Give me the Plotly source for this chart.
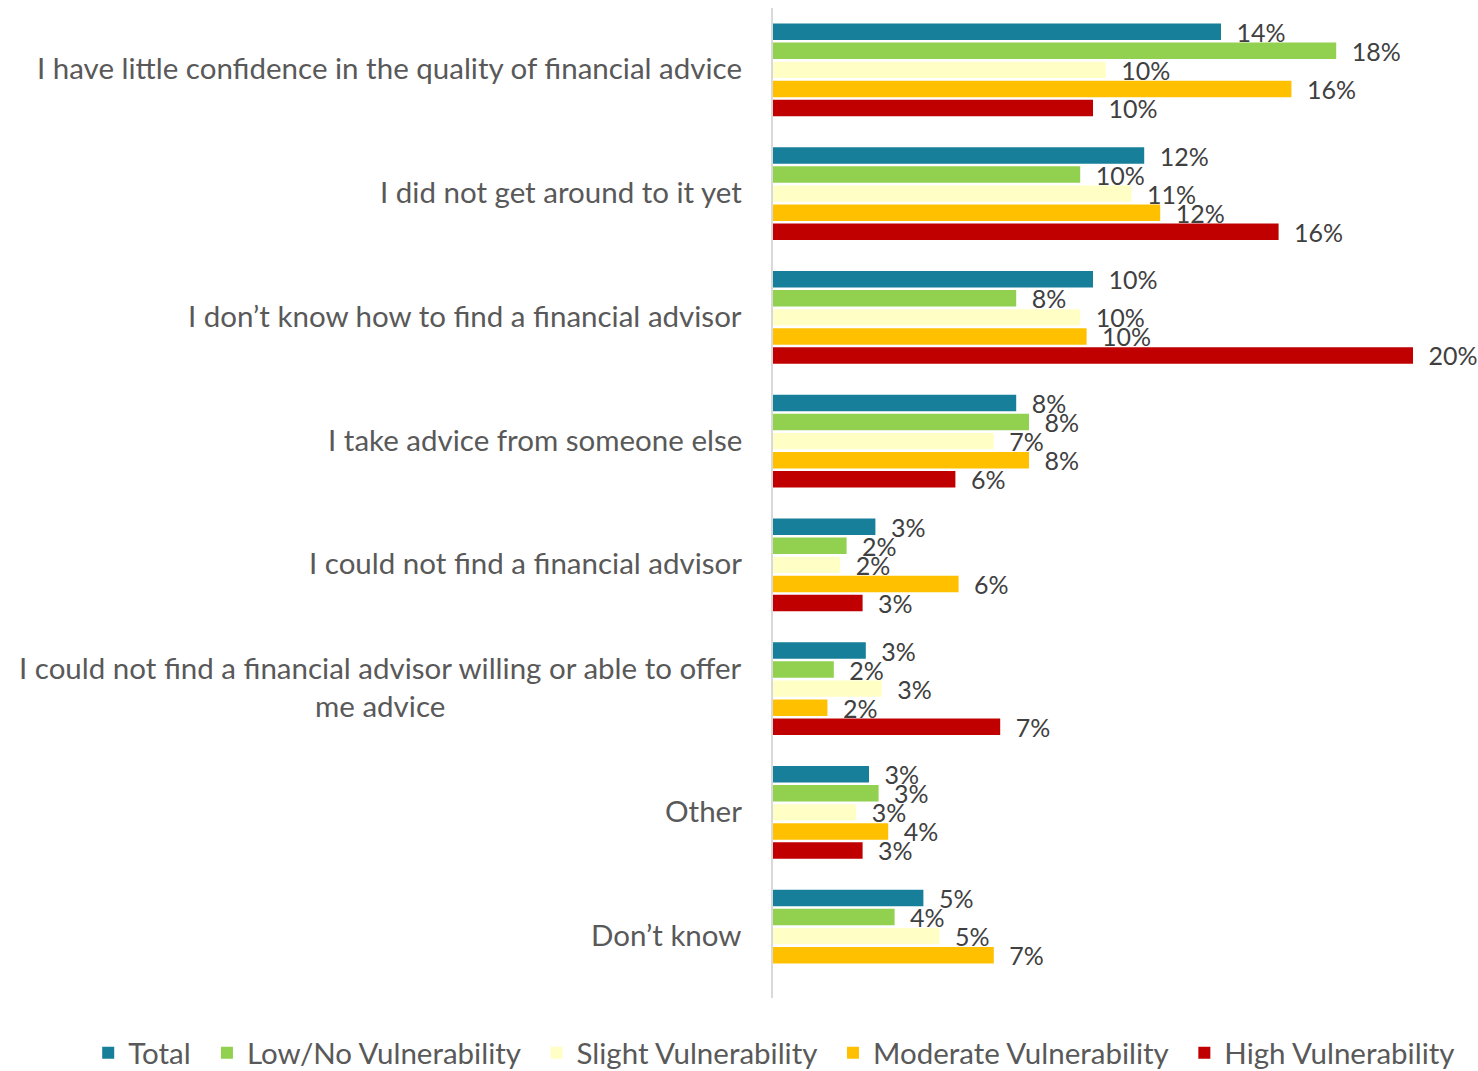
import plotly.graph_objects as go

# Reasons for not seeking financial advice, by vulnerability segment
categories = [
    "I have little confidence in the quality of financial advice",
    "I did not get around to it yet",
    "I don\u2019t know how to find a financial advisor",
    "I take advice from someone else",
    "I could not find a financial advisor",
    "I could not find a financial advisor willing or able to offer<br>me advice",
    "Other",
    "Don\u2019t know",
]

series_names = [
    "Total",
    "Low/No Vulnerability",
    "Slight Vulnerability",
    "Moderate Vulnerability",
    "High Vulnerability",
]

total = [0.140, 0.116, 0.100, 0.076, 0.032, 0.029, 0.030, 0.047]
low_none = [0.176, 0.096, 0.076, 0.080, 0.023, 0.019, 0.033, 0.038]
slight = [0.104, 0.112, 0.096, 0.069, 0.021, 0.034, 0.026, 0.052]
moderate = [0.162, 0.121, 0.098, 0.080, 0.058, 0.017, 0.036, 0.069]
high = [0.100, 0.158, 0.200, 0.057, 0.028, 0.071, 0.028, None]

series_values = [total, low_none, slight, moderate, high]
colors = ["#177F99", "#92D050", "#FFFFC5", "#FFC000", "#C00000"]

FONT = "Lato, Calibri, sans-serif"
LEGEND_PAD = "\u00a0\u2009"  # extra room between legend entries

fig = go.Figure()
for i, (name, vals, col) in enumerate(zip(series_names, series_values, colors)):
    legend_name = name if i == len(series_names) - 1 else name + LEGEND_PAD
    fig.add_trace(go.Bar(
        y=categories,
        x=vals,
        name=legend_name,
        orientation="h",
        marker=dict(color=col, line=dict(width=0)),
        texttemplate="\u2002%{x:.0%}",
        textposition="outside",
        constraintext="none",
        cliponaxis=False,
        outsidetextfont=dict(family=FONT, size=25, color="#404040"),
        hovertemplate=name + ": %{x:.1%}<extra></extra>",
    ))

# Category labels drawn as centred, right-anchored text blocks
for cat in categories:
    fig.add_annotation(
        x=0, xref="x", y=cat, yref="y",
        text=cat, showarrow=False,
        xanchor="right", yanchor="middle", align="center",
        xshift=-29, yshift=2,
        font=dict(family=FONT, size=29.5, color="#595959"),
    )

fig.update_layout(
    width=1478, height=1071,
    margin=dict(l=773, r=65, t=8, b=73, autoexpand=False),
    barmode="group",
    bargap=0.23,
    bargroupgap=0.14,
    plot_bgcolor="white",
    paper_bgcolor="white",
    font=dict(family=FONT, color="#595959"),
    showlegend=True,
    legend=dict(
        orientation="h",
        x=-1.07, xanchor="left",
        y=-0.0293, yanchor="top",
        font=dict(family=FONT, size=29.5, color="#595959"),
        itemwidth=30,
        traceorder="normal",
    ),
    xaxis=dict(
        range=[0, 0.2],
        visible=False,
        showgrid=False,
        zeroline=False,
    ),
    yaxis=dict(
        autorange="reversed",
        showticklabels=False,
        ticks="",
        showgrid=False,
        zeroline=False,
        showline=True,
        linecolor="#D9D9D9",
        linewidth=1.5,
    ),
)

fig.write_html("out.html")
